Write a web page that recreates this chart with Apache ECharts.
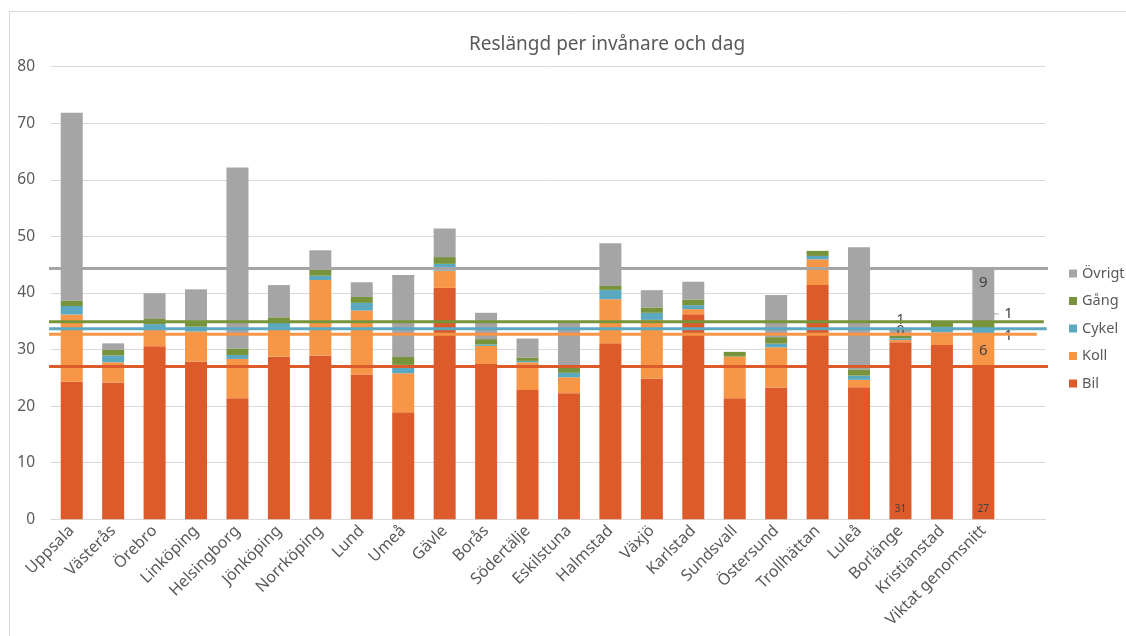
<!DOCTYPE html>
<html>
<head>
<meta charset="utf-8">
<script src="https://cdn.jsdelivr.net/npm/echarts@6/dist/echarts.min.js"></script>
<style>
  html, body { margin: 0; padding: 0; background: #ffffff; }
  #chart { width: 1126px; height: 636px; }
</style>
</head>
<body>
<div id="chart"></div>
<script>
// Trip length per inhabitant and day, split by mode of travel (km)
const cities = ['Uppsala', 'Västerås', 'Örebro', 'Linköping', 'Helsingborg', 'Jönköping',
  'Norrköping', 'Lund', 'Umeå', 'Gävle', 'Borås', 'Södertälje', 'Eskilstuna', 'Halmstad',
  'Växjö', 'Karlstad', 'Sundsvall', 'Östersund', 'Trollhättan', 'Luleå', 'Borlänge',
  'Kristianstad', 'Viktat genomsnitt'];

const bil    = [24.3, 24.2, 30.6, 27.9, 21.4, 28.75, 28.9, 25.6, 18.9, 40.9, 27.45, 22.85, 22.3, 31.1, 24.85, 36.25, 21.4, 23.3, 41.4, 23.35, 31.3, 30.8, 27.0];
const koll   = [11.9, 3.55, 2.85, 5.3, 6.95, 5.1, 13.4, 11.3, 6.9, 3.05, 3.2, 4.9, 2.8, 7.8, 10.4, 0.9, 7.35, 7.1, 4.55, 1.3, 0.4, 2.25, 5.7];
const cykel  = [1.5, 1.2, 1.05, 0.85, 0.7, 0.9, 0.75, 1.35, 1.5, 1.2, 0.25, 0.25, 0.8, 1.65, 1.25, 0.7, 0, 0.65, 0.6, 0.75, 0.3, 0.95, 1.0];
const gang   = [0.95, 1.0, 0.9, 1.05, 1.15, 0.95, 1.05, 1.05, 1.4, 1.2, 0.95, 0.6, 1.05, 0.7, 0.95, 1.0, 0.85, 1.15, 0.9, 1.1, 0.45, 1.0, 1.2];
const ovrigt = [33.2, 1.15, 4.55, 5.55, 32.0, 5.7, 3.45, 2.6, 14.5, 5.05, 4.65, 3.35, 8.0, 7.55, 3.05, 3.15, 0, 7.45, 0, 21.6, 1.4, 0, 9.45];

const seriesNames = ['Bil', 'Koll', 'Cykel', 'Gång', 'Övrigt'];
const legendOrder = ['Övrigt', 'Gång', 'Cykel', 'Koll', 'Bil'];
const yTickValues = [0, 10, 20, 30, 40, 50, 60, 70, 80];

const colors = {
  'Bil': '#DD5A2B',
  'Koll': '#F79646',
  'Cykel': '#5BA8C1',
  'Gång': '#77933C',
  'Övrigt': '#A5A5A5'
};

const values = { 'Bil': bil, 'Koll': koll, 'Cykel': cykel, 'Gång': gang, 'Övrigt': ovrigt };

// The weighted average bar sets the horizontal reference lines (cumulative levels)
const avgIdx = cities.length - 1;
const avgLevels = {};
let acc = 0;
seriesNames.forEach(n => { acc += values[n][avgIdx]; avgLevels[n] = acc; });

const FONT = "'Noto Sans', 'Open Sans', sans-serif";
const TXT = '#595959';
const LBL = '#404040';

// Data labels shown on a few segments only
const itemLabels = {
  'Bil': {
    'Borlänge': { position: 'insideBottom', distance: 5, fontSize: 10 },
    'Viktat genomsnitt': { position: 'insideBottom', distance: 5, fontSize: 10 }
  },
  'Koll': {
    'Viktat genomsnitt': { position: 'inside', fontSize: 15 }
  },
  'Cykel': {
    'Viktat genomsnitt': { position: 'right', distance: 10, offset: [0, 4], fontSize: 15 }
  },
  'Gång': {
    'Borlänge': { position: 'inside', offset: [0, -6], fontSize: 14 },
    'Viktat genomsnitt': { position: 'right', distance: 10, offset: [0, -12], fontSize: 15 }
  },
  'Övrigt': {
    'Borlänge': { position: 'top', distance: 1, fontSize: 14 },
    'Viktat genomsnitt': { position: 'insideTop', distance: 7, fontSize: 15 }
  }
};

function buildData(name) {
  return values[name].map((v, i) => {
    const lab = itemLabels[name] && itemLabels[name][cities[i]];
    return lab ? { value: v, label: Object.assign({ show: true }, lab) } : v;
  });
}

const barSeries = seriesNames.map(name => ({
  name: name,
  type: 'bar',
  stack: 'total',
  barWidth: 22,
  xAxisIndex: 0,
  yAxisIndex: 0,
  itemStyle: { color: colors[name] },
  label: {
    show: false,
    color: LBL,
    fontFamily: FONT,
    formatter: p => String(Math.round(p.value))
  },
  emphasis: { disabled: true },
  data: buildData(name),
  z: 2
}));

// Horizontal average lines, spanning a little past the category band
const lineSpans = {
  'Övrigt': [-0.27, 24.2],
  'Gång': [-0.5, 23.96],
  'Cykel': [-0.43, 24.03],
  'Koll': [-0.48, 23.79],
  'Bil': [-0.27, 24.28]
};

const lineSeries = seriesNames.map(name => ({
  name: 'Snitt ' + name,
  type: 'line',
  xAxisIndex: 1,
  yAxisIndex: 0,
  symbol: 'none',
  clip: false,
  silent: true,
  lineStyle: { color: colors[name], width: 3 },
  data: [[lineSpans[name][0], avgLevels[name]], [lineSpans[name][1], avgLevels[name]]],
  z: 3
}));

// Short leader from the average bar to its walking label
const leader = {
  name: 'Ledare',
  type: 'line',
  xAxisIndex: 1,
  yAxisIndex: 0,
  symbol: 'none',
  clip: false,
  silent: true,
  lineStyle: { color: '#A5A5A5', width: 1 },
  data: [[avgIdx + 0.75, avgLevels['Gång'] + 1.4], [avgIdx + 0.87, avgLevels['Gång'] + 1.4]],
  z: 4
};

const chart = echarts.init(document.getElementById('chart'), null, { renderer: 'canvas' });

chart.setOption({
  animation: false,
  backgroundColor: '#ffffff',
  textStyle: { fontFamily: FONT },
  title: {
    text: 'Reslängd per invånare och dag',
    left: 602,
    textAlign: 'center',
    top: 30,
    textStyle: { fontFamily: FONT, fontSize: 19, fontWeight: 'normal', color: TXT }
  },
  graphic: [{
    type: 'rect',
    shape: { x: 9.5, y: 11.5, width: 1200, height: 700 },
    style: { fill: 'none', stroke: '#D9D9D9', lineWidth: 1 },
    silent: true,
    z: -1
  }],
  legend: {
    data: legendOrder,
    orient: 'vertical',
    left: 1064,
    top: 260,
    itemWidth: 8,
    itemHeight: 8,
    itemGap: 10.5,
    icon: 'rect',
    selectedMode: false,
    textStyle: { fontFamily: FONT, fontSize: 14.5, color: TXT, lineHeight: 17 }
  },
  grid: { left: 51, right: 80.5, top: 66.7, bottom: 116.7, containLabel: false },
  xAxis: [{
    type: 'category',
    data: cities.concat(['']),
    axisLine: { show: true, lineStyle: { color: '#D9D9D9', width: 1 } },
    axisTick: { show: false },
    axisLabel: {
      interval: 0,
      rotate: 45,
      margin: 9,
      fontFamily: FONT,
      fontSize: 16,
      color: TXT
    },
    splitLine: { show: false }
  }, {
    type: 'value',
    min: 0,
    max: cities.length + 1,
    show: false
  }],
  yAxis: [{
    type: 'value',
    min: yTickValues[0],
    max: yTickValues[yTickValues.length - 1],
    interval: yTickValues[1] - yTickValues[0],
    axisLine: { show: false },
    axisTick: { show: false },
    axisLabel: { margin: 16, fontFamily: FONT, fontSize: 15.5, color: TXT },
    splitLine: { lineStyle: { color: '#D9D9D9', width: 1 } }
  }],
  series: barSeries.concat(lineSeries, [leader])
});
</script>
</body>
</html>
